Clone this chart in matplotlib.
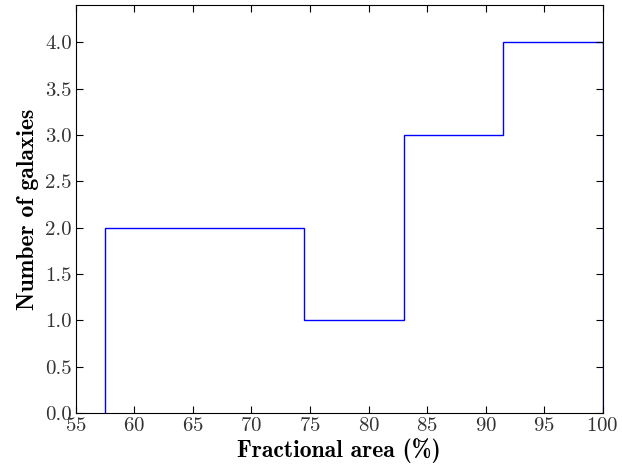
import matplotlib
matplotlib.use('Agg')
import matplotlib.pyplot as plt

# histogram of fractional area, 5 bins of 8.5 from 57.5 to 100
bin_edges = [57.5, 66.0, 74.5, 83.0, 91.5, 100.0]
counts = [2, 2, 1, 3, 4]

plt.rcParams['font.family'] = 'cmr10'
plt.rcParams['mathtext.fontset'] = 'cm'
plt.rcParams['axes.formatter.use_mathtext'] = True

fig = plt.figure(figsize=(6.22, 4.72), dpi=100)
ax = fig.add_axes([0.122, 0.125, 0.847, 0.864])

ax.stairs(counts, bin_edges, color='b', linewidth=1.0)

ax.set_xlim(55, 100)
ax.set_ylim(0, 4.4)
ax.set_xticks([55, 60, 65, 70, 75, 80, 85, 90, 95, 100])
ax.set_yticks([0.0, 0.5, 1.0, 1.5, 2.0, 2.5, 3.0, 3.5, 4.0])
ax.set_yticklabels(['%.1f' % v for v in ax.get_yticks()])
ax.tick_params(direction='in', top=True, right=True, length=5, width=0.8,
               labelsize=15, colors='black', labelcolor='#333333', pad=3)

ax.set_xlabel('Fractional area (%)', fontsize=17, family='cmb10', labelpad=2)
ax.set_ylabel('Number of galaxies', fontsize=17, family='cmb10', labelpad=4)

fig.savefig('out.png', dpi=100)
